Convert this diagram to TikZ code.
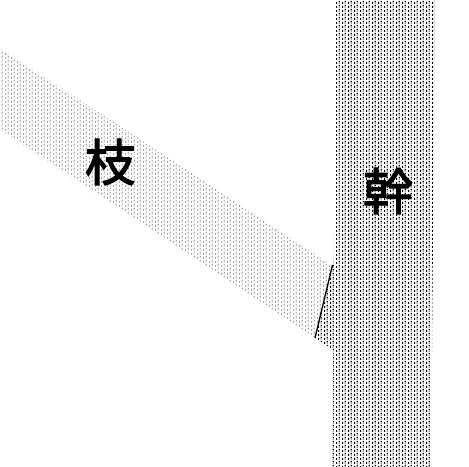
\documentclass[tikz,border=0pt]{standalone}
\usepackage{fontspec}
\newfontfamily\cjk{Noto Sans CJK JP}[FakeBold=2.5]
\usetikzlibrary{patterns,patterns.meta}
\pgfdeclarepattern{
  name=vdashes,
  type=uncolored,
  bottom left={\pgfpoint{0bp}{0bp}},
  top right={\pgfpoint{6bp}{4bp}},
  tile size={\pgfpoint{6bp}{4bp}},
  code={
    \pgfpathrectangle{\pgfpoint{0bp}{0bp}}{\pgfpoint{1.4bp}{2.6bp}}
    \pgfpathrectangle{\pgfpoint{3bp}{2bp}}{\pgfpoint{1.4bp}{2bp}}
    \pgfpathrectangle{\pgfpoint{3bp}{0bp}}{\pgfpoint{1.4bp}{0.6bp}}
    \pgfusepath{fill}
  }
}
\tikzset{
  trunkfill/.style={pattern=vdashes, pattern color=black},
  branchfill/.style={pattern=vdashes, pattern color=black!35},
  cutline/.style={draw=black, line width=1.3bp},
  label/.style={font=\cjk\fontsize{50bp}{50bp}\selectfont, text=black, inner sep=0pt}
}
\begin{document}
\begin{tikzpicture}[x=1bp,y=-1bp]
\useasboundingbox (0,0) rectangle (469,467);
% branch
\fill[branchfill] (0,48) -- (332.5,265) -- (315,338) -- (0,130) -- cycle;
% trunk with collar
\fill[trunkfill] (336,0) -- (435,0) -- (431,467) -- (332,467) -- (333.3,350)
  -- (315,338) -- (332.5,265) -- (333.7,265) -- cycle;
% cut line
\coordinate (ctop) at (332.5,265);
\coordinate (cbot) at (315,338);
\draw[cutline] (ctop) -- (cbot);
% labels
\node[label] (eda) at (110,162) {枝};
\node[label] (miki) at (388,191) {幹};
\end{tikzpicture}
\end{document}
